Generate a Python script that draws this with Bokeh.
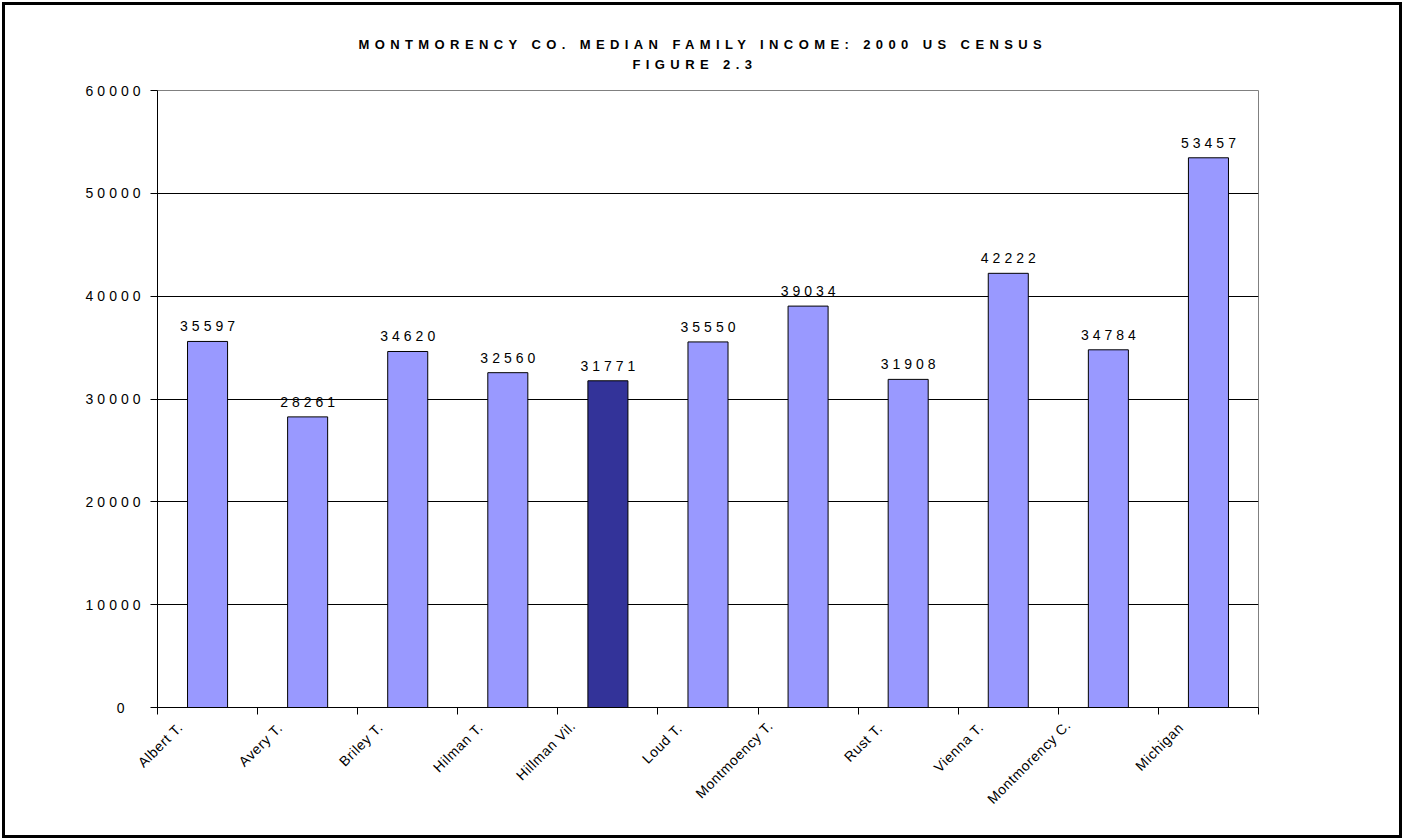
from bokeh.plotting import figure
from bokeh.layouts import column
from bokeh.models import Range1d, FixedTicker, BasicTickFormatter, Title, ColumnDataSource
from bokeh.core.properties import value
from bokeh.embed import file_html
from bokeh.resources import INLINE
import math

categories = ["Albert T.", "Avery T.", "Briley T.", "Hilman T.", "Hillman Vil.", "Loud T.",
              "Montmoency T.", "Rust T.", "Vienna T.", "Montmorency C.", "Michigan"]
incomes = [35597, 28261, 34620, 32560, 31771, 35550, 39034, 31908, 42222, 34784, 53457]
highlight = "Hillman Vil."
y_ticks = [0, 10000, 20000, 30000, 40000, 50000, 60000]
title_line1 = "MONTMORENCY CO. MEDIAN FAMILY INCOME: 2000 US CENSUS"
title_line2 = "FIGURE 2.3"

FONT = "Liberation Sans"
NUM_SPACING = 4.0    # letter spacing of numbers (px)
TITLE_SPACING = 5.4  # letter spacing of title (px)
XLAB_SPACING = 0.6   # letter spacing of category labels (px)

W = 1404
FRAME_L, FRAME_R = 157, 146

xs = [i + 0.5 for i in range(len(categories))]
# rotated labels end a little left of the category centre, longer labels further left
label_pos = [x - 0.31 - 0.03 * max(0, len(c) - 9) for x, c in zip(xs, categories)]
boundaries = list(range(len(categories) + 1))
colors = ["#333399" if c == highlight else "#9999FF" for c in categories]
src = ColumnDataSource(dict(x=xs, y=incomes, color=colors, label=[str(v) for v in incomes]))


def blank(fig):
    fig.background_fill_color = None
    fig.border_fill_color = None
    fig.outline_line_color = None
    fig.grid.visible = False


# ---- title strip ----
pt = figure(width=W, height=74, output_backend="svg", toolbar_location=None,
            x_axis_location=None, y_axis_location=None,
            x_range=Range1d(0, 1), y_range=Range1d(0, 1),
            min_border_left=0, min_border_right=0, min_border_top=73, min_border_bottom=0)
blank(pt)
pt.styles = {"letter-spacing": f"{TITLE_SPACING}px"}
pt.add_layout(Title(text=title_line2, align="left", offset=475, text_font=FONT, text_font_size="13px",
                    text_font_style="bold", text_color="black", standoff=4), "above")
pt.add_layout(Title(text=title_line1, align="left", offset=201, text_font=FONT, text_font_size="13px",
                    text_font_style="bold", text_color="black", standoff=2), "above")

# ---- main chart ----
p = figure(width=W, height=642, output_backend="svg", toolbar_location=None,
           x_range=Range1d(0, len(categories)), y_range=Range1d(0, 60000),
           min_border_left=FRAME_L, min_border_right=FRAME_R, min_border_top=16, min_border_bottom=9)
p.styles = {"letter-spacing": f"{NUM_SPACING}px"}
p.background_fill_color = "white"
p.border_fill_color = None
p.outline_line_color = "#808080"
p.outline_line_width = 1

p.vbar(x="x", top="y", width=0.4, bottom=0, source=src, fill_color="color",
       line_color="black", line_width=1)
p.text(x="x", y="y", text="label", source=src, text_align="center", text_baseline="bottom",
       x_offset=-2 * NUM_SPACING, y_offset=-10, text_font=value(FONT), text_font_size="14px",
       text_color="black")

p.yaxis.ticker = FixedTicker(ticks=y_ticks)
p.yaxis.formatter = BasicTickFormatter(use_scientific=False)
p.yaxis.axis_line_color = "black"
p.yaxis.major_tick_out = 7
p.yaxis.major_tick_in = 0
p.yaxis.minor_tick_line_color = None
p.yaxis.major_label_text_font = FONT
p.yaxis.major_label_text_font_size = "14px"
p.yaxis.major_label_text_color = "black"
p.yaxis.major_label_standoff = int(10 + 4 * NUM_SPACING)

p.xaxis.ticker = FixedTicker(ticks=[], minor_ticks=boundaries)
p.xaxis.major_tick_line_color = None
p.xaxis.major_tick_out = 0
p.xaxis.minor_tick_line_color = "black"
p.xaxis.minor_tick_out = 7
p.xaxis.minor_tick_in = 0
p.xaxis.axis_line_color = "black"

p.xgrid.grid_line_color = None
p.ygrid.ticker = FixedTicker(ticks=y_ticks)
p.ygrid.grid_line_color = "black"
p.ygrid.grid_line_width = 1

# ---- category labels strip ----
pb = figure(width=W, height=124, output_backend="svg", toolbar_location=None,
            y_axis_location=None,
            x_range=p.x_range, y_range=Range1d(0, 1),
            min_border_left=FRAME_L, min_border_right=FRAME_R, min_border_top=0, min_border_bottom=123)
blank(pb)
pb.styles = {"letter-spacing": f"{XLAB_SPACING}px"}
pb.xaxis.ticker = FixedTicker(ticks=label_pos)
pb.xaxis.major_label_overrides = {x: c for x, c in zip(label_pos, categories)}
pb.xaxis.major_label_orientation = math.pi / 4
pb.xaxis.major_tick_line_color = None
pb.xaxis.major_tick_out = 0
pb.xaxis.major_tick_in = 0
pb.xaxis.minor_tick_line_color = None
pb.xaxis.axis_line_color = None
pb.xaxis.major_label_text_font = FONT
pb.xaxis.major_label_text_font_size = "14px"
pb.xaxis.major_label_text_color = "black"
pb.xaxis.major_label_standoff = 11

layout = column(pt, p, pb, spacing=0)
layout.styles = {"outline": "3px solid black", "outline-offset": "-5px", "background-color": "white"}

open("out.html", "w").write(file_html(layout, INLINE))
